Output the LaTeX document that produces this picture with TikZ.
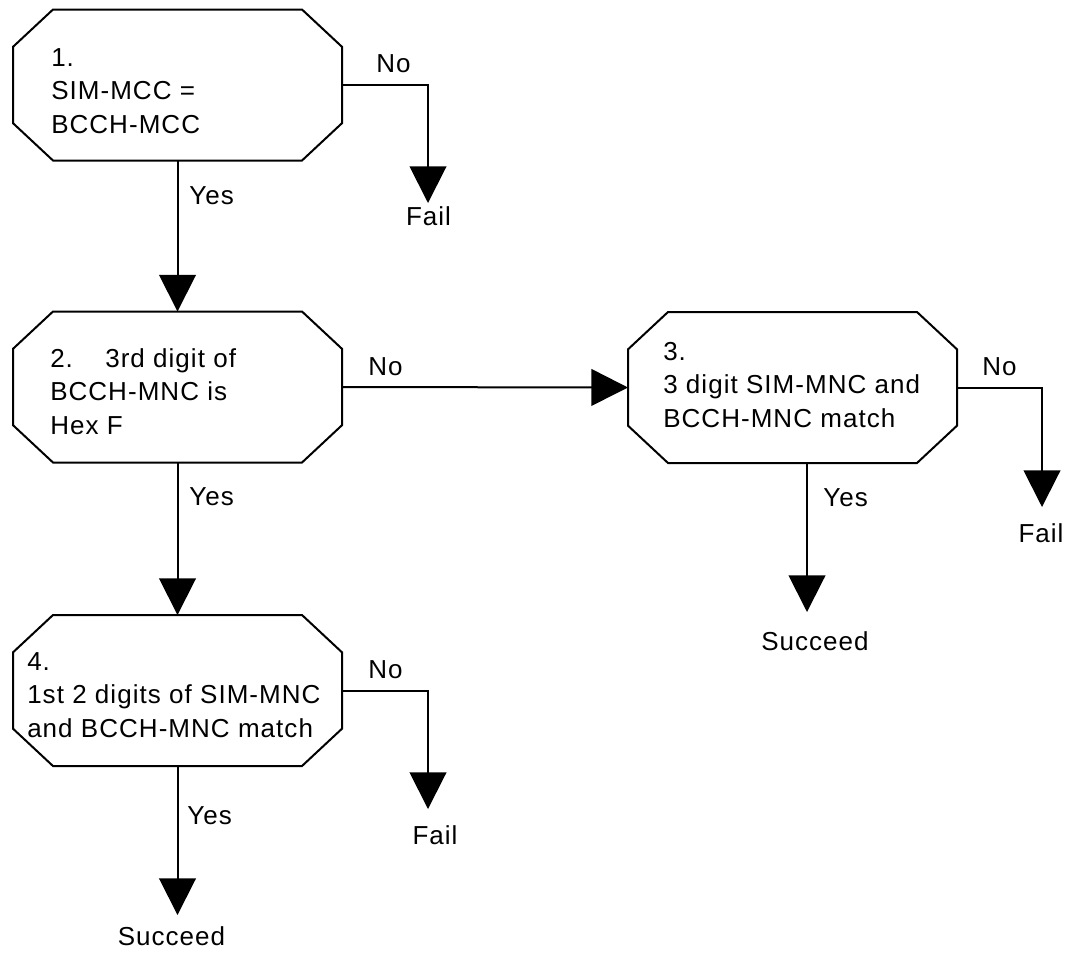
\documentclass[tikz,border=0pt]{standalone}
\usepackage{fontspec}
\setmainfont{Liberation Sans}[LetterSpace=4]
\usetikzlibrary{arrows.meta}
\tikzset{
  boxnode/.style={rectangle, minimum width=246.75pt, minimum height=113.25pt, inner sep=0pt, outer sep=0pt},
  boxline/.style={draw=black, line width=1.5pt, line join=miter},
  txt/.style={align=left, inner sep=0pt, anchor=base west, font=\fontsize{19.5pt}{25pt}\selectfont},
  lbl/.style={inner sep=0pt, font=\fontsize{19.5pt}{25pt}\selectfont},
  flow/.style={draw=black, line width=1.5pt, -{Triangle[length=27.5pt,width=27.5pt]}}
}
\newcommand\octbox[1]{%
  \draw[boxline] ([xshift=30pt]#1.north west) -- ([xshift=-30pt]#1.north east)
    -- ([yshift=-28pt]#1.north east) -- ([yshift=28pt]#1.south east)
    -- ([xshift=-30pt]#1.south east) -- ([xshift=30pt]#1.south west)
    -- ([yshift=28pt]#1.south west) -- ([yshift=-28pt]#1.north west) -- cycle;}
\begin{document}
\begin{tikzpicture}[x=0.75pt,y=-0.75pt]
\useasboundingbox (0,0) rectangle (1069,958);
\fill[white] (0,0) rectangle (1069,958);

% boxes
\node[boxnode] (b1) at (177.5,85) {};
\node[boxnode] (b2) at (177.5,387) {};
\node[boxnode] (b3) at (792.5,387.5) {};
\node[boxnode] (b4) at (177.5,690.5) {};
\octbox{b1}\octbox{b2}\octbox{b3}\octbox{b4}

% box texts (anchored at the baseline of the last line)
\node[txt] (t1) at (51,133) {1.\\SIM-MCC =\\BCCH-MCC};
\node[txt] (t2) at (50,434) {\makebox[41.25pt][l]{2.}3rd digit of\\BCCH-MNC is\\Hex F};
\node[txt] (t3) at (663,427) {3.\\3 digit SIM-MNC and\\BCCH-MNC match};
\node[txt] (t4) at (27,737) {4.\\1st 2 digits of SIM-MNC\\and BCCH-MNC match};

% end coordinates
\coordinate (e1) at (428,203);
\coordinate (e3) at (1042,507);
\coordinate (e4) at (428,809);
\coordinate (s3) at (807,612);
\coordinate (s4) at (177.5,915);

% connectors
\draw[flow] (b1.east) -| (e1);
\draw[flow] (b1.south) -- (b2.north);
\draw[flow] (b2.east) -- (b3.west);
\draw[flow] (b2.south) -- (b4.north);
\draw[flow] (b3.east) -| (e3);
\draw[flow] (s3 |- b3.south) -- (s3);
\draw[flow] (b4.east) -| (e4);
\draw[flow] (b4.south) -- (s4);

% labels
\node[lbl, anchor=base west] (no1) at (376,72) {No};
\node[lbl, anchor=base west] (yes1) at (189,204) {Yes};
\node[lbl, anchor=base] (fail1) at (428.5,225) {Fail};

\node[lbl, anchor=base west] (no2) at (368,375) {No};
\node[lbl, anchor=base west] (yes2) at (189,505) {Yes};

\node[lbl, anchor=base west] (no3) at (982,375) {No};
\node[lbl, anchor=base west] (yes3) at (823,506) {Yes};
\node[lbl, anchor=base] (fail3) at (1041,542) {Fail};
\node[lbl, anchor=base] (succ3) at (815,650) {Succeed};

\node[lbl, anchor=base west] (no4) at (368,678) {No};
\node[lbl, anchor=base west] (yes4) at (187,824) {Yes};
\node[lbl, anchor=base] (fail4) at (435,844) {Fail};
\node[lbl, anchor=base] (succ4) at (171.5,945) {Succeed};
\end{tikzpicture}
\end{document}
